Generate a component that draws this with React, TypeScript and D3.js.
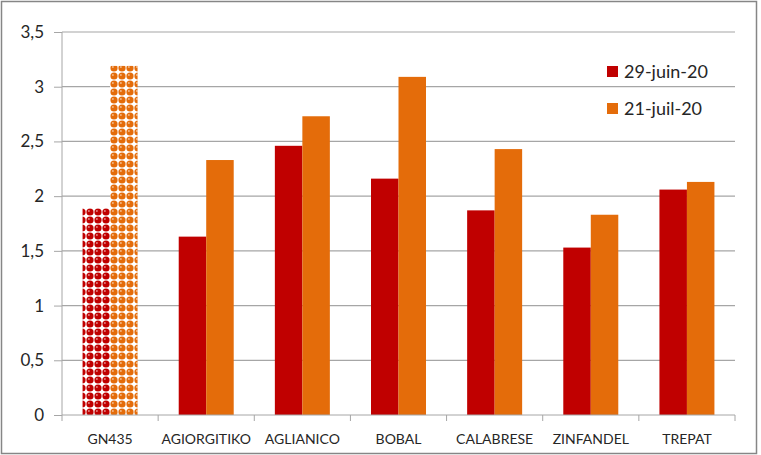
import { useEffect, useMemo, useRef } from "react";
import * as d3 from "d3";

const WIDTH = 761;
const HEIGHT = 455;
const MARGIN = { top: 32, right: 26, bottom: 40, left: 62 };

const categories = ["GN435", "AGIORGITIKO", "AGLIANICO", "BOBAL", "CALABRESE", "ZINFANDEL", "TREPAT"];
const seriesNames = ["29-juin-20", "21-juil-20"];
const juin = [1.89, 1.63, 2.46, 2.16, 1.87, 1.53, 2.06];
const juil = [3.19, 2.33, 2.73, 3.09, 2.43, 1.83, 2.13];
const yTicks = [0, 0.5, 1, 1.5, 2, 2.5, 3, 3.5];
const patterned = ["GN435"];

const COLORS = ["#c00000", "#e46c0a"];
const FONT = "Lato, 'Open Sans', sans-serif";

const App = () => {
    const axesRef = useRef<SVGGElement>(null);
    const boundsWidth = WIDTH - MARGIN.left - MARGIN.right;
    const boundsHeight = HEIGHT - MARGIN.top - MARGIN.bottom;

    const data = categories.map((c, i) => ({ x: c, values: [juin[i], juil[i]] }));

    const xScale = useMemo(() => {
        return d3.scaleBand<string>().domain(categories).range([0, boundsWidth]).paddingInner(0).paddingOuter(0);
    }, [boundsWidth]);

    // inner scale for the two series inside each category (Excel gap width ~75%)
    const groupWidth = xScale.bandwidth() * 0.572;
    const subScale = d3
        .scaleBand<number>()
        .domain([0, 1])
        .range([(xScale.bandwidth() - groupWidth) / 2, (xScale.bandwidth() + groupWidth) / 2]);

    const yScale = useMemo(() => {
        return d3.scaleLinear().domain([0, 3.5]).range([boundsHeight, 0]);
    }, [boundsHeight]);

    // axis ticks drawn with d3
    useEffect(() => {
        const g = d3.select(axesRef.current);
        g.selectAll("*").remove();

        const yAxis = d3
            .axisLeft(yScale)
            .tickValues(yTicks)
            .tickSize(8)
            .tickPadding(10)
            .tickFormat((d) => String(d).replace(".", ","));
        const ya = g.append("g").call(yAxis);
        ya.select(".domain").attr("stroke", "#a6a6a6").attr("d", `M0,0V${boundsHeight}`);
        ya.selectAll(".tick line").attr("stroke", "#a6a6a6");
        ya.selectAll(".tick text")
            .attr("fill", "#262626")
            .style("font-family", FONT)
            .style("font-size", "17px");

        const xAxis = d3.axisBottom(xScale).tickSize(0).tickPadding(19);
        const xa = g.append("g").attr("transform", `translate(0,${boundsHeight})`).call(xAxis);
        xa.select(".domain").attr("stroke", "#a6a6a6").attr("d", `M0,0H${boundsWidth}`);
        xa.selectAll(".tick text")
            .attr("fill", "#262626")
            .style("font-family", FONT)
            .style("font-size", "14px");

        // category boundary tick marks
        xa.selectAll(".bound")
            .data(d3.range(categories.length + 1))
            .enter()
            .append("line")
            .attr("x1", (i) => i * xScale.step())
            .attr("x2", (i) => i * xScale.step())
            .attr("y1", 0)
            .attr("y2", 6)
            .attr("stroke", "#a6a6a6");
    }, [xScale, yScale, boundsHeight, boundsWidth]);

    const gridLines = yTicks.slice(1).map((t) => (
        <line key={t} x1={0} x2={boundsWidth} y1={yScale(t)} y2={yScale(t)} stroke="#a6a6a6" strokeWidth={1.2} />
    ));

    const rectangles = data.map((d) => (
        <g key={d.x} transform={`translate(${xScale(d.x)},0)`}>
            {d.values.map((v, j) => (
                <rect
                    key={j}
                    x={subScale(j)}
                    y={yScale(v)}
                    width={subScale.bandwidth()}
                    height={yScale(0) - yScale(v)}
                    fill={patterned.includes(d.x) ? `url(#dots${j})` : COLORS[j]}
                />
            ))}
        </g>
    ));

    const legend = seriesNames.map((s, i) => (
        <g key={s} transform={`translate(607,${66 + i * 37})`}>
            <rect width={11} height={11} fill={COLORS[i]} />
            <text x={17} y={11.5} fontSize={18} fill="#262626" fontFamily={FONT}>
                {s}
            </text>
        </g>
    ));

    return (
        <div style={{ position: "absolute", left: 0, top: 0 }}>
            <svg width={WIDTH} height={HEIGHT} style={{ display: "block" }}>
                <defs>
                    {COLORS.map((c, i) => (
                        <pattern key={i} id={`dots${i}`} width={8} height={8} patternUnits="userSpaceOnUse">
                            <rect width={8} height={8} fill="#ffffff" />
                            <circle cx={4} cy={4} r={3.6} fill={c} />
                            <circle cx={2.9} cy={2.9} r={1} fill="#ffffff" opacity={0.5} />
                        </pattern>
                    ))}
                </defs>
                <rect x={0} y={0} width={WIDTH} height={HEIGHT} fill="#ffffff" />
                <rect x={1.5} y={1.5} width={755} height={452} fill="none" stroke="#868686" strokeWidth={1.5} />
                <g transform={`translate(${MARGIN.left},${MARGIN.top})`}>
                    {gridLines}
                    {rectangles}
                </g>
                <g ref={axesRef} transform={`translate(${MARGIN.left},${MARGIN.top})`} />
                {legend}
            </svg>
        </div>
    );
};

export default App;
